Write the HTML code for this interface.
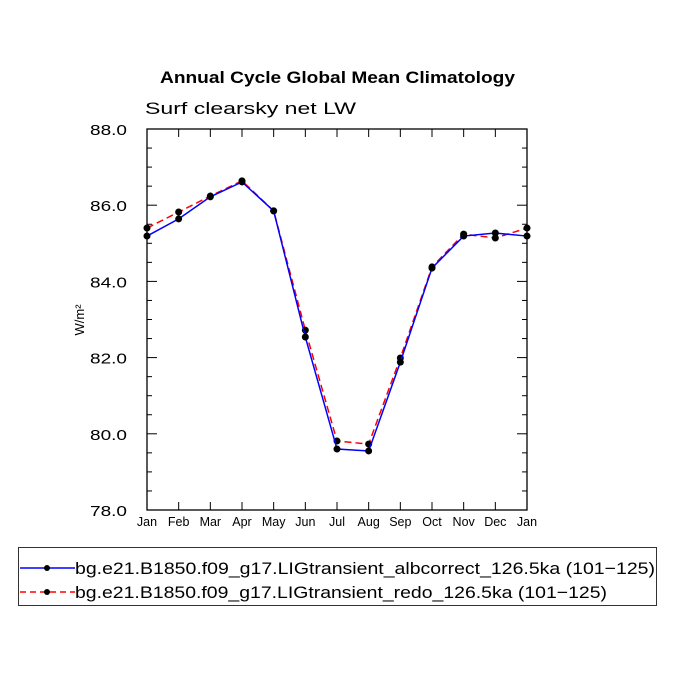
<!DOCTYPE html>
<html><head><meta charset="utf-8"><style>
body{margin:0;background:#fff;width:675px;height:675px;overflow:hidden}
svg{font-family:"Liberation Sans",sans-serif}
</style></head><body>
<svg id="chart" width="675" height="675" xmlns="http://www.w3.org/2000/svg">
<text x="160" y="83" font-size="17" font-weight="bold" textLength="355" lengthAdjust="spacingAndGlyphs">Annual Cycle Global Mean Climatology</text>
<text x="145" y="114" font-size="17" textLength="211" lengthAdjust="spacingAndGlyphs">Surf clearsky net LW</text>
<text transform="translate(84,320) rotate(-90)" text-anchor="middle" font-size="13">W/m²</text>
<g id="axes"></g>
<g id="series"></g>
<g>
<rect x="18.5" y="547.5" width="638" height="58" fill="none" stroke="#333" stroke-width="1"/>
<line x1="20" y1="568" x2="75" y2="568" stroke="#0000ff" stroke-width="1.5"/>
<circle cx="47" cy="568" r="3" fill="#000"/>
<text x="75" y="574" font-size="17" textLength="580" lengthAdjust="spacingAndGlyphs">bg.e21.B1850.f09_g17.LIGtransient_albcorrect_126.5ka (101−125)</text>
<line x1="20" y1="592" x2="75" y2="592" stroke="#ff0000" stroke-width="1.5" stroke-dasharray="6,4"/>
<circle cx="47" cy="592" r="3" fill="#000"/>
<text x="75" y="598" font-size="17" textLength="532" lengthAdjust="spacingAndGlyphs">bg.e21.B1850.f09_g17.LIGtransient_redo_126.5ka (101−125)</text>
</g>
</svg>
<script>
const months=["Jan","Feb","Mar","Apr","May","Jun","Jul","Aug","Sep","Oct","Nov","Dec","Jan"];
const albcorrect=[85.19,85.64,86.22,86.61,85.85,82.54,79.60,79.55,81.88,84.35,85.19,85.27,85.19];
const redo=[85.40,85.82,86.24,86.64,85.85,82.72,79.81,79.73,81.99,84.38,85.24,85.14,85.40];
const yTicks=[78.0,80.0,82.0,84.0,86.0,88.0];
const X0=147,X1=527,Y0=510,Y1=129,YMIN=78,YMAX=88;
const ns="http://www.w3.org/2000/svg";
function xs(i){return X0+(X1-X0)*i/(months.length-1);}
function ys(v){return Y0-(v-YMIN)/(YMAX-YMIN)*(Y0-Y1);}
function mk(t,a,p){const e=document.createElementNS(ns,t);for(const k in a)e.setAttribute(k,a[k]);p.appendChild(e);return e;}
const ax=document.getElementById('axes');
const fr=mk('rect',{x:X0,y:Y1,width:X1-X0,height:Y0-Y1,fill:'none',stroke:'#000','stroke-width':1.3},ax);


for(let v=YMIN;v<=YMAX+1e-9;v+=0.5){
  const major=Math.abs(v/2-Math.round(v/2))<1e-6;const L=major?10:5;const y=ys(v);
  mk('line',{x1:X0,y1:y,x2:X0+L,y2:y,stroke:'#000'},ax);
  mk('line',{x1:X1,y1:y,x2:X1-L,y2:y,stroke:'#000'},ax);
}
yTicks.forEach(v=>{
  const t=mk('text',{x:127,y:ys(v)+6,'text-anchor':'end','font-size':15,textLength:37,lengthAdjust:'spacingAndGlyphs'},ax);
  t.textContent=v.toFixed(1);
  
  
});
months.forEach((m,i)=>{
  const x=xs(i);
  mk('line',{x1:x,y1:Y0,x2:x,y2:Y0-8,stroke:'#000'},ax);
  mk('line',{x1:x,y1:Y1,x2:x,y2:Y1+8,stroke:'#000'},ax);
  const t=mk('text',{x:x,y:526,'text-anchor':'middle','font-size':12.5},ax);
  t.textContent=m;
  
  
});
const sg=document.getElementById('series');
function draw(data,color,dash,name){
  const pts=data.map((v,i)=>xs(i)+','+ys(v)).join(' ');
  const pl=mk('polyline',{points:pts,fill:'none',stroke:color,'stroke-width':1.5,'stroke-dasharray':dash},sg);
  
  
  data.forEach((v,i)=>{
    const c=mk('circle',{cx:xs(i),cy:ys(v),r:3.5,fill:'#000'},sg);
    
    
  });
}
draw(redo,'#ff0000','7,4','redo');
draw(albcorrect,'#0000ff','none','albcorrect');
</script>
</body></html>
